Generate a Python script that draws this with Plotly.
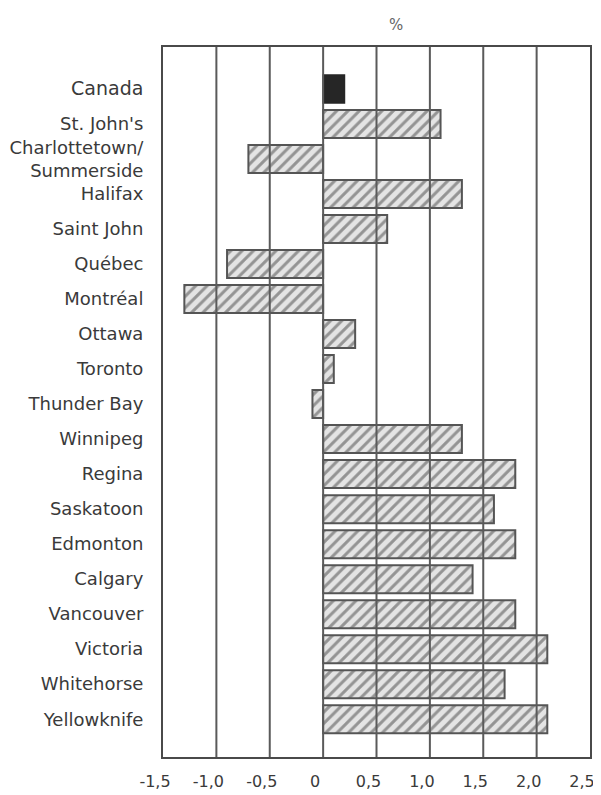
import plotly.graph_objects as go

cities = ["Canada", "St. John's", "Charlottetown/<br>Summerside", "Halifax", "Saint John",
          "Québec", "Montréal", "Ottawa", "Toronto", "Thunder Bay", "Winnipeg", "Regina",
          "Saskatoon", "Edmonton", "Calgary", "Vancouver", "Victoria", "Whitehorse", "Yellowknife"]
city_ticktext = ["<span style='font-size:19px'>Canada</span>"] + cities[1:]
values = [0.2, 1.1, -0.7, 1.3, 0.6, -0.9, -1.3, 0.3, 0.1, -0.1, 1.3, 1.8,
          1.6, 1.8, 1.4, 1.8, 2.1, 1.7, 2.1]
x_tickvals = [-1.5, -1.0, -0.5, 0, 0.5, 1.0, 1.5, 2.0, 2.5]
x_ticktext = ["-1,5", "-1,0", "-0,5", "0", "0,5", "1,0", "1,5", "2,0", "2,5"]
unit_label = "%"

FONT = "DejaVu Sans, Verdana, sans-serif"

fig = go.Figure()
fig.add_trace(go.Bar(
    y=cities[:1], x=values[:1], orientation="h", width=0.8,
    marker=dict(color="#262626", line=dict(color="#262626", width=1.5)),
    showlegend=False))
fig.add_trace(go.Bar(
    y=cities[1:], x=values[1:], orientation="h", width=0.8,
    marker=dict(color="#dcdcdc",
                pattern=dict(shape="/", fgcolor="#444444", bgcolor="#e4e4e4",
                             size=8, solidity=0.38),
                line=dict(color="#555555", width=2)),
    showlegend=False))

# vertical grid lines drawn above the bars, as in the reference
for v in x_tickvals[1:-1]:
    fig.add_shape(type="line", xref="x", yref="paper", x0=v, x1=v, y0=0, y1=1,
                  line=dict(color="#5a5a5a", width=2), layer="above")

fig.add_annotation(text=unit_label, xref="x", yref="paper", x=0.68, y=1, yshift=22,
                   yanchor="middle", showarrow=False,
                   font=dict(size=15, color="#666666", family=FONT))

# the page body adds an 8px offset, margins compensate for it
fig.update_layout(
    width=601, height=795,
    margin=dict(l=155, r=19, t=39, b=46, autoexpand=False),
    plot_bgcolor="white", paper_bgcolor="white",
    barmode="overlay",
    font=dict(family=FONT, size=18, color="#3a3a3a"),
    xaxis=dict(range=[-1.5, 2.5], tickvals=x_tickvals, ticktext=x_ticktext,
               showgrid=False, zeroline=False, showline=True, mirror=True,
               linecolor="#4a4a4a", linewidth=2, ticks="", ticklabelstandoff=9,
               ticklabelshift=-8, automargin=False,
               tickfont=dict(size=16, color="#3a3a3a")),
    yaxis=dict(type="category", categoryorder="array", categoryarray=cities,
               tickvals=cities, ticktext=city_ticktext,
               range=[19.08, -1.2], showgrid=False, zeroline=False, showline=True,
               mirror=True, linecolor="#4a4a4a", linewidth=2, ticks="",
               automargin=False, ticklabelstandoff=14,
               tickfont=dict(size=18, color="#3a3a3a")),
)

fig.write_html("out.html")
